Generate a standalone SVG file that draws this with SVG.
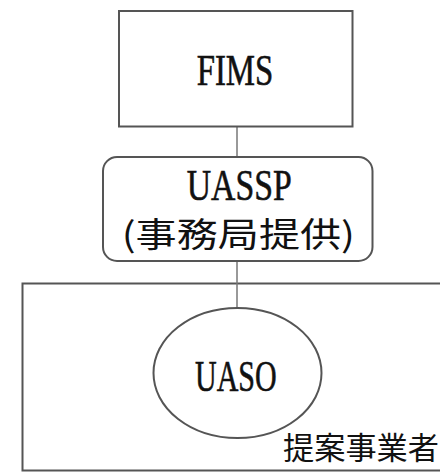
<svg xmlns="http://www.w3.org/2000/svg" width="440" height="475" viewBox="0 0 440 475">
<style>
.box{fill:#fff;stroke:#555;stroke-width:2}
.con{stroke:#777;stroke-width:1.5;fill:none}
.lat{font-family:"Liberation Serif","Times New Roman",serif;font-size:44px;fill:#111;stroke:#111;stroke-width:0.6}
.cjk{font-family:"Noto Sans CJK JP","Noto Sans CJK SC",sans-serif;fill:#111}
</style>
<g id="org">
<rect class="box" x="22.5" y="283.5" width="430" height="187"/>
<text class="cjk" x="283" y="459" font-size="31" textLength="156" lengthAdjust="spacingAndGlyphs">提案事業者</text>
</g>
<g id="connectors">
<line class="con" x1="237" y1="126.5" x2="237" y2="157"/>
<line class="con" x1="237" y1="261" x2="237" y2="308"/>
</g>
<g id="fims">
<rect class="box" x="119" y="11" width="233.5" height="115.5"/>
<text class="lat" x="196.7" y="85" textLength="76.6" lengthAdjust="spacingAndGlyphs">FIMS</text>
</g>
<g id="uassp">
<rect class="box" x="103" y="157" width="269.5" height="104" rx="14" ry="14"/>
<text class="lat" x="186.7" y="200" textLength="105" lengthAdjust="spacingAndGlyphs">UASSP</text>
<text class="cjk" x="121.7" y="247" font-size="34" textLength="233.3" lengthAdjust="spacingAndGlyphs">(事務局提供)</text>
</g>
<g id="uaso">
<ellipse class="box" cx="237.5" cy="373" rx="84" ry="65"/>
<text class="lat" x="195" y="391" textLength="81.7" lengthAdjust="spacingAndGlyphs">UASO</text>
</g>
</svg>
